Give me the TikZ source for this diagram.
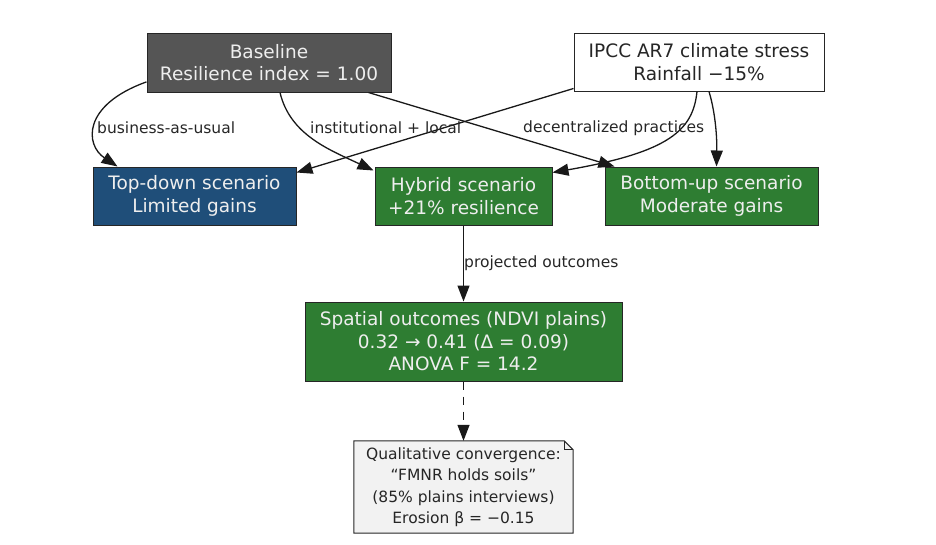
\documentclass[tikz,border=0pt]{standalone}
\usepackage{fontspec}
\setmainfont{DejaVu Sans}
\usetikzlibrary{arrows.meta,calc,backgrounds}
\definecolor{basegray}{HTML}{555555}
\definecolor{tdblue}{HTML}{1F4E79}
\definecolor{grn}{HTML}{2E7D32}
\definecolor{notefill}{HTML}{F2F2F2}
\definecolor{lighttext}{HTML}{EEEEEE}
\begin{document}
\begin{tikzpicture}[x=1pt,y=-1pt,
  box/.style={draw=black!85, line width=1pt, inner sep=0pt, align=center,
    font=\fontsize{18.5}{22.5}\selectfont},
  dark/.style={box, text=lighttext},
  edge/.style={draw=black!90, line width=1.3pt, -{Triangle[length=16pt,width=12pt]}},
  lbl/.style={font=\fontsize{15.5}{18}\selectfont, anchor=west, inner sep=0pt, text=black!85}
]
\useasboundingbox (0,0) rectangle (936,544);

\node[dark, fill=basegray, minimum width=244pt, minimum height=59pt] (base) at (269,62.5) {Baseline\\Resilience index = 1.00};
\node[box, fill=white, text=black!85, minimum width=250pt, minimum height=58pt] (ipcc) at (699,62) {IPCC AR7 climate stress\\Rainfall −15\%};
\node[dark, fill=tdblue, minimum width=203pt, minimum height=58pt] (td) at (194.5,196) {Top-down scenario\\Limited gains};
\node[dark, fill=grn, minimum width=177pt, minimum height=58pt] (hyb) at (463.5,196) {Hybrid scenario\\+21\% resilience};
\node[dark, fill=grn, minimum width=213pt, minimum height=58pt] (bu) at (711.5,196) {Bottom-up scenario\\Moderate gains};
\node[dark, fill=grn, minimum width=317pt, minimum height=79pt] (sp) at (463.5,341.5) {Spatial outcomes (NDVI plains)\\0.32 → 0.41 (Δ = 0.09)\\ANOVA F = 14.2};
\node[inner sep=0pt, align=center, text=black!85, font=\fontsize{15.5}{21.5}\selectfont,
  minimum width=219pt, minimum height=92pt] (note) at (463.5,487) {Qualitative convergence:\\“FMNR holds soils”\\(85\% plains interviews)\\Erosion β = −0.15};
\begin{scope}[on background layer]
  \draw[draw=black!85, line width=1pt, fill=notefill] (note.north west) -- ($(note.north east)+(-9,0)$) -- ($(note.north east)+(0,9)$) -- (note.south east) -- (note.south west) -- cycle;
  \draw[black!85, line width=0.8pt] ($(note.north east)+(-9,0)$) -- ($(note.north east)+(-9,9)$) -- ($(note.north east)+(0,9)$);
\end{scope}

% edges from Baseline
\draw[edge] (base.189) .. controls (82,105) and (85,145) .. ($(td.north west)+(25,0)$);
\draw[edge] ($(base.south)+(11,0)$) .. controls (290,135) and (330,150) .. ($(hyb.north west)+(-1,4)$);
\draw[edge] ($(base.south east)+(-23,0)$) -- ($(bu.north west)+(10,0)$);
% edges from IPCC
\draw[edge] ($(ipcc.south west)+(0,-3)$) -- ($(td.north east)+(0,6)$);
\draw[edge] ($(ipcc.south)+(-2,0)$) .. controls (693,130) and (670,152) .. ($(hyb.north east)+(0,6)$);
\draw[edge] ($(ipcc.south)+(10,0)$) .. controls (716,115) and (717,140) .. ($(bu.north)+(5,0)$);
% lower chain
\draw[edge] (hyb.south) -- (sp.north);
\draw[edge, dash pattern=on 8pt off 7pt] (sp.south) -- (note.north);

\node[lbl] (l1) at (97,128) {business-as-usual};
\node[lbl] (l2) at (310,128) {institutional + local};
\node[lbl] (l3) at (523,128) {decentralized practices};
\node[lbl] (l4) at (464,263) {projected outcomes};
\end{tikzpicture}
\end{document}
